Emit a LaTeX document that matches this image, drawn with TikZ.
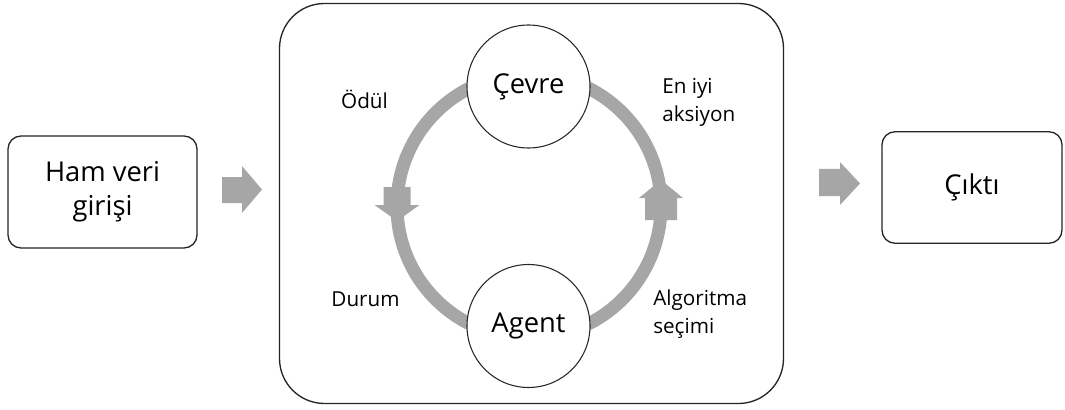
\documentclass[tikz,border=0pt]{standalone}
\usepackage{fontspec}
\setmainfont{Open Sans}
\begin{document}
\begin{tikzpicture}[x=0.75pt,y=-0.75pt,
  line/.style={draw=black!85, line width=1pt},
  box/.style={line, rounded corners=9.75pt, fill=white, align=center,
    font=\fontsize{20.5}{25.5}\selectfont, inner sep=0pt},
  station/.style={line, line width=0.8pt, circle, fill=white, inner sep=0pt,
    minimum size=92.25pt, font=\fontsize{20.5}{25.5}\selectfont},
  label/.style={font=\fontsize{15.5}{20.6}\selectfont, inner sep=0pt, align=left},
  ring/.style={draw=ringgrey, line width=9.75pt},
  block/.style={fill=ringgrey, draw=none}]
\definecolor{ringgrey}{HTML}{A6A6A6}
\useasboundingbox (0,0) rectangle (1065,410);

% outer frame of the learning loop
\draw[line, rounded corners=33.75pt] (279.5,3.5) rectangle (783.5,403.5);

% input and output boxes
\node[box, minimum width=189*0.75pt, minimum height=112*0.75pt] (input) at (102.5,192) {Ham veri\\girişi};
\node[box, minimum width=180*0.75pt, minimum height=111.5*0.75pt] (output) at (972,187.5) {Çıktı};

% block arrows between the stages
\fill[block] (222,177) -- (242,177) -- (242,166) -- (262,189.5) -- (242,213) -- (242,203) -- (222,203) -- cycle;
\fill[block] (819,169) -- (840,169) -- (840,162) -- (860,183.5) -- (840,205) -- (840,196) -- (819,196) -- cycle;

% feedback ring
\coordinate (hub) at (529,206);
\draw[ring] (hub) circle[radius=132];

% direction markers on the ring
\fill[block] (383.5,187) -- (410.5,187) -- (410.5,205) -- (419.5,205) -- (397,221) -- (374.5,205) -- (383.5,205) -- cycle;
\fill[block] (645,220) -- (677,220) -- (677,198) -- (683,198) -- (661,180) -- (639,198) -- (645,198) -- cycle;

% environment and agent
\node[station] (cevre) at (528.5,86.5) {Çevre};
\node[station] (agent) at (528.5,326) {Agent};

% loop labels
\node[label, anchor=base] (odul) at (364.5,108.3) {Ödül};
\node[label, anchor=base] (durum) at (365.5,306) {Durum};
\node[label, anchor=west] (aksiyon) at (662,102.5) {En iyi\\aksiyon};
\node[label, anchor=west] (secim) at (653,314) {Algoritma\\seçimi};
\end{tikzpicture}
\end{document}
